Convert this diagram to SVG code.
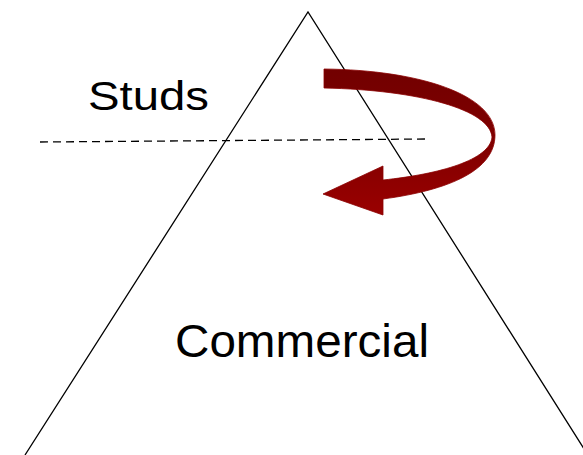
<svg xmlns="http://www.w3.org/2000/svg" width="583" height="455" viewBox="0 0 583 455">
<style>
.lbl{font-family:"Liberation Sans",Arial,sans-serif;fill:#000}
.edge{fill:none;stroke:#000;stroke-width:1.3}
</style>
<defs>
<linearGradient id="g" x1="0" y1="0" x2="0" y2="1">
<stop offset="0" stop-color="#720000"/>
<stop offset="0.5" stop-color="#800000"/>
<stop offset="1" stop-color="#9a0000"/>
</linearGradient>
</defs>
<rect width="583" height="455" fill="#fff"/>
<g id="connectors">
<polyline class="edge" points="25,455 308,12 586,452"/>
<line class="edge" x1="40" y1="142" x2="428" y2="139" stroke-dasharray="8,5"/>
</g>
<g id="studs"><text class="lbl" x="88" y="110" font-size="41" textLength="121" lengthAdjust="spacingAndGlyphs">Studs</text></g>
<g id="commercial"><text class="lbl" x="175" y="357" font-size="47" textLength="254" lengthAdjust="spacingAndGlyphs">Commercial</text></g>
<g id="arrow">
<path d="M324,69 C420,70 495,95 495,135 C495,170 450,190 383,199 L383,215 L323,194 L383,166 L383,180 C440,174 490,160 492,137 C490,110 420,90 324,88 Z" fill="url(#g)" stroke="#8a0000" stroke-width="0.8"/>
</g>
</svg>
